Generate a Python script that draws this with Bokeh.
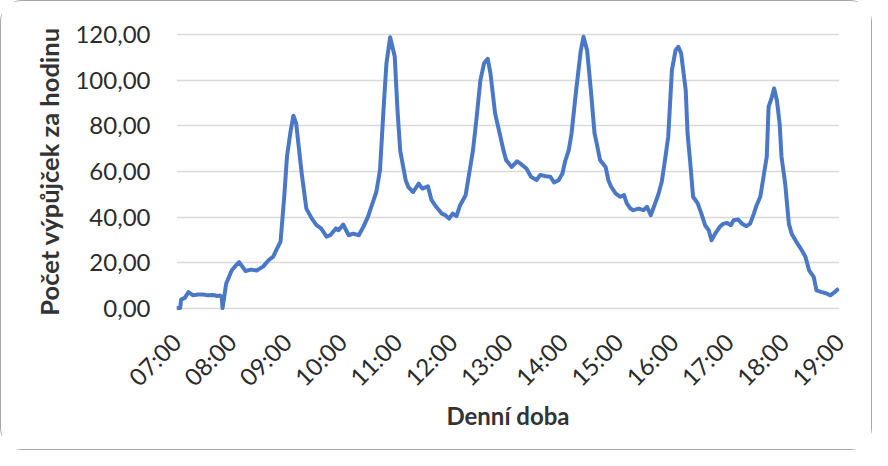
import math
from bokeh.plotting import figure
from bokeh.models import FixedTicker, Range1d
from bokeh.embed import file_html
from bokeh.resources import INLINE

times = ["07:00", "07:04", "07:05", "07:09", "07:13", "07:18", "07:23", "07:29", "07:34", "07:40",
         "07:44", "07:47", "07:49", "07:50", "07:54", "08:00", "08:04", "08:08", "08:15", "08:21",
         "08:27", "08:34", "08:40", "08:45", "08:49", "08:53", "08:57", "09:00", "09:04", "09:07",
         "09:10", "09:16", "09:21", "09:27", "09:32", "09:37", "09:43", "09:47", "09:53", "09:56",
         "10:01", "10:07", "10:12", "10:18", "10:23", "10:28", "10:34", "10:37", "10:41", "10:45",
         "10:48", "10:52", "10:57", "11:00", "11:03", "11:09", "11:12", "11:17", "11:23", "11:27",
         "11:33", "11:37", "11:42", "11:48", "11:52", "11:56", "12:00", "12:04", "12:08", "12:14",
         "12:19", "12:22", "12:26", "12:30", "12:34", "12:38", "12:41", "12:46", "12:51", "12:55",
         "12:58", "13:04", "13:10", "13:15", "13:20", "13:25", "13:31", "13:35", "13:41", "13:46",
         "13:50", "13:55", "13:59", "14:02", "14:06", "14:09", "14:14", "14:19", "14:22", "14:26",
         "14:30", "14:34", "14:36", "14:40", "14:46", "14:49", "14:52", "14:57", "15:02", "15:06",
         "15:09", "15:13", "15:16", "15:22", "15:27", "15:31", "15:35", "15:39", "15:43", "15:47",
         "15:51", "15:54", "15:58", "16:02", "16:05", "16:08", "16:13", "16:15", "16:18", "16:21",
         "16:26", "16:30", "16:34", "16:38", "16:41", "16:45", "16:50", "16:54", "16:58", "17:02",
         "17:05", "17:10", "17:14", "17:19", "17:23", "17:27", "17:30", "17:34", "17:38", "17:41",
         "17:43", "17:46", "17:49", "17:52", "17:55", "17:57", "18:01", "18:05", "18:08", "18:13",
         "18:19", "18:23", "18:27", "18:32", "18:35", "18:40", "18:46", "18:50", "18:55", "18:59"]

counts = [0.0, 0.0, 3.7, 4.5, 7.0, 5.6, 6.0, 6.0, 5.6, 5.8,
          5.3, 5.5, 5.0, 0.0, 10.8, 16.6, 18.5, 20.2, 16.3, 16.9,
          16.5, 18.2, 21.0, 22.6, 26.0, 29.2, 49.0, 66.7, 78.0, 84.5,
          81.0, 59.0, 43.7, 39.3, 36.4, 35.0, 31.4, 32.0, 35.0, 34.2,
          36.7, 32.0, 32.7, 32.0, 35.8, 40.2, 47.4, 51.0, 60.6, 88.5,
          107.5, 119.0, 110.5, 87.0, 69.0, 56.0, 53.0, 51.0, 54.7, 52.5,
          53.5, 47.4, 44.5, 41.5, 40.8, 39.3, 41.5, 40.4, 45.2, 49.6,
          62.0, 69.4, 84.0, 100.0, 107.5, 109.5, 103.0, 85.5, 76.7, 69.4,
          65.0, 62.0, 64.5, 63.0, 61.3, 57.7, 56.2, 58.5, 57.9, 57.7,
          55.2, 56.2, 59.0, 64.4, 69.4, 76.7, 95.7, 113.0, 119.2, 113.0,
          95.7, 76.7, 73.0, 65.0, 62.0, 56.2, 53.3, 50.3, 48.9, 49.6,
          46.0, 43.7, 43.0, 43.7, 43.0, 44.5, 40.8, 45.2, 49.6, 55.5,
          66.5, 75.3, 104.5, 113.3, 114.8, 111.9, 95.7, 76.7, 63.5, 48.9,
          46.0, 41.5, 36.4, 34.2, 29.8, 32.7, 35.7, 37.1, 37.4, 36.4,
          38.6, 38.9, 37.1, 36.0, 37.1, 41.5, 45.2, 48.9, 59.0, 66.5,
          88.4, 92.0, 96.5, 91.3, 81.0, 66.5, 54.7, 37.1, 32.7, 29.2,
          25.4, 22.5, 16.6, 13.7, 7.8, 7.1, 6.4, 5.6, 7.1, 8.6]

x_ticks = [7, 8, 9, 10, 11, 12, 13, 14, 15, 16, 17, 18, 19]
x_tick_labels = ["07:00", "08:00", "09:00", "10:00", "11:00", "12:00", "13:00",
                 "14:00", "15:00", "16:00", "17:00", "18:00", "19:00"]
y_ticks = [0, 20, 40, 60, 80, 100, 120]
y_tick_labels = ["0,00", "20,00", "40,00", "60,00", "80,00", "100,00", "120,00"]

hours = [int(t[:2]) + int(t[3:]) / 60.0 for t in times]

p = figure(width=872, height=450, output_backend="svg", toolbar_location=None,
           x_range=Range1d(7, 19), y_range=Range1d(-1.5, 121.5),
           min_border_left=175, min_border_right=34, min_border_top=30,
           min_border_bottom=140,
           styles={"border": "1.5px solid #a6a6a6", "border-radius": "22px",
                   "box-sizing": "border-box"})

p.line(hours, counts, line_color="#4a78c6", line_width=4, line_join="round")

p.outline_line_color = None
p.xgrid.grid_line_color = None
p.ygrid.grid_line_color = "#d9d9d9"
p.ygrid.grid_line_width = 1.5
p.background_fill_color = "white"
p.border_fill_color = "white"

for ax in (p.xaxis[0], p.yaxis[0]):
    ax.axis_line_color = None
    ax.major_tick_line_color = None
    ax.minor_tick_line_color = None
    ax.major_tick_out = 0
    ax.major_tick_in = 0
    ax.major_label_text_font = "Lato"
    ax.major_label_text_font_size = "24px"
    ax.major_label_text_color = "#2b2b2b"
    ax.axis_label_text_font = "Lato"
    ax.axis_label_text_font_style = "bold"
    ax.axis_label_text_color = "#333333"

p.xaxis.axis_label_text_font_size = "24px"
p.yaxis.axis_label_text_font_size = "25.5px"

p.xaxis.ticker = FixedTicker(ticks=x_ticks)
p.xaxis.major_label_overrides = dict(zip(x_ticks, x_tick_labels))
p.xaxis.major_label_orientation = math.pi / 4
p.xaxis.major_label_standoff = 26
p.xaxis.axis_label = "Denní doba"
p.xaxis.axis_label_standoff = -4

p.yaxis.ticker = FixedTicker(ticks=y_ticks)
p.yaxis.major_label_overrides = dict(zip(y_ticks, y_tick_labels))
p.yaxis.major_label_standoff = 26
p.yaxis.axis_label = "Počet výpůjček za hodinu"
p.yaxis.axis_label_standoff = 8

open("out.html", "w").write(file_html(p, INLINE))
